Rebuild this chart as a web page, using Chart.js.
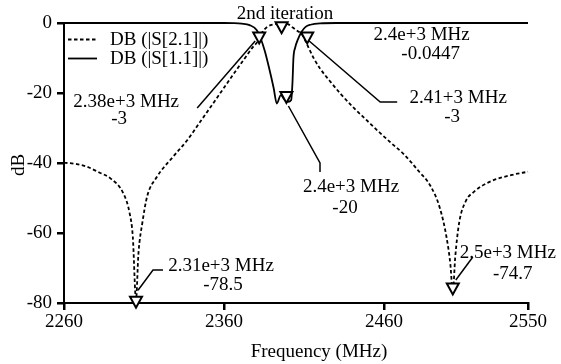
<!DOCTYPE html>
<html><head><meta charset="utf-8">
<script src="https://cdn.jsdelivr.net/npm/chart.js@4.4.1/dist/chart.umd.min.js"></script>
<style>html,body{margin:0;padding:0;background:#fff;}canvas{display:block;}</style>
</head><body>
<canvas id="c" width="561" height="364"></canvas>
<script>
// ---------- data ----------
const xTicks = [2260, 2360, 2460, 2550];
const yTicks = [-80, -60, -40, -20, 0];

const s21Label = 'DB (|S[2.1]|)';
const s21Freq = [2260, 2268, 2274, 2282, 2289, 2297, 2301, 2303, 2305, 2306.5, 2309, 2312, 2318, 2328, 2337, 2345, 2355, 2365, 2372, 2378, 2381, 2384, 2387, 2391, 2396, 2400, 2403, 2406, 2409, 2412, 2416, 2420, 2426, 2433, 2441, 2449, 2457, 2465, 2472, 2482, 2489, 2495, 2499, 2501.5, 2503, 2504.5, 2507, 2511, 2516, 2526, 2540, 2550];
const s21Db   = [-39.9, -40.3, -41, -42.7, -44.4, -48.6, -54.3, -61, -79, -66, -57, -49.5, -44, -38.3, -33.5, -28.3, -21.8, -15.2, -10.7, -6.9, -5.3, -2.6, -1.1, -0.4, -0.04, -0.3, -1.3, -2.3, -3.4, -6.2, -10, -13, -16.5, -20.3, -24.2, -27.7, -31.2, -34.5, -37.3, -42.5, -46.5, -53, -61, -69, -77, -67, -57, -51, -48.3, -45.4, -43.4, -42.5];

const s11Label = 'DB (|S[1.1]|)';
const s11Freq = [2260, 2300, 2340, 2360, 2366, 2371, 2376, 2380.4, 2383, 2385.5, 2388, 2391, 2393, 2395.5, 2398, 2400, 2402, 2402.8, 2403.4, 2404.5, 2406, 2408.5, 2411, 2414, 2420, 2430, 2480, 2550];
const s11Db   = [0, 0, 0, 0, -0.05, -0.2, -0.6, -2, -4.5, -8, -12.5, -18.5, -23, -20.6, -22, -22.5, -22, -17, -10, -7, -4.9, -2.5, -1.1, -0.5, -0.1, 0, 0, 0];

const markerFreq = [2382, 2396, 2412, 2399, 2305, 2503];
const markerDb   = [-3, -0.0447, -3, -20, -78.5, -74.7];
const markerFreqText = ['2.38e+3 MHz', '2.4e+3 MHz', '2.41+3 MHz', '2.4e+3 MHz', '2.31e+3 MHz', '2.5e+3 MHz'];

const plotTitle = '2nd iteration';
const xTitle = 'Frequency (MHz)';
const yTitle = 'dB';

// ---------- layout / style (pixel offsets relative to marker points) ----------
const FONT_FAMILY = "'Liberation Serif', 'Times New Roman', serif";
const FONT = '19px ' + FONT_FAMILY;
const markerLayout = [
  {l1: [-133, 69], l2: [-140, 85.5], leader: [[-62, 74.5], [-4, 7.5]]},
  {l1: [140, 11.8], l2: [149, 31.3], leader: null},
  {l1: [151, 65], l2: [145, 83.5], leader: [[90, 68.5], [73, 68.5], [2, 7.5]]},
  {l1: [64.6, 94.5], l2: [58.6, 115.5], leader: [[33.6, 79], [33.6, 70], [2, 13]]},
  {l1: [85, -31.25], l2: [87, -12.75], leader: [[27, -27.75], [17, -27.75], [2, -7.5]]},
  {l1: [55, -31], l2: [60, -10], leader: [[20, -27.5], [3, -4.5]]}
];

const toPts = (fs, ds) => fs.map((f, i) => ({x: f, y: ds[i]}));

const annotPlugin = {
  id: 'annots',
  afterDatasetsDraw(chart) {
    const {ctx, chartArea: ca, scales: {x, y}} = chart;
    ctx.save();
    ctx.strokeStyle = '#000';
    ctx.fillStyle = '#000';
    ctx.font = FONT;
    ctx.textBaseline = 'middle';
    ctx.textAlign = 'center';
    markerFreq.forEach((f, i) => {
      const px = x.getPixelForValue(f), py = y.getPixelForValue(markerDb[i]);
      const L = markerLayout[i];
      if (L.leader) {
        ctx.lineWidth = 1.5;
        ctx.setLineDash([]);
        ctx.beginPath();
        L.leader.forEach(([dx, dy], k) => k ? ctx.lineTo(px + dx, py + dy) : ctx.moveTo(px + dx, py + dy));
        ctx.stroke();
      }
      // inverted triangle marker
      const cy = py + 4;
      ctx.lineWidth = 2;
      ctx.beginPath();
      ctx.moveTo(px - 6, cy - 5);
      ctx.lineTo(px + 6, cy - 5);
      ctx.lineTo(px, cy + 6);
      ctx.closePath();
      ctx.fillStyle = '#fff';
      ctx.fill();
      ctx.stroke();
      ctx.fillStyle = '#000';
      ctx.fillText(markerFreqText[i], px + L.l1[0], py + L.l1[1]);
      ctx.fillText(String(markerDb[i]), px + L.l2[0], py + L.l2[1]);
    });
    // legend
    const ds = chart.data.datasets;
    [0, 1].forEach(k => {
      const ly = ca.top + 16.5 + k * 19;
      ctx.lineWidth = 1.8;
      ctx.setLineDash(ds[k].borderDash || []);
      ctx.beginPath();
      ctx.moveTo(ca.left + 4, ly);
      ctx.lineTo(ca.left + 33, ly);
      ctx.stroke();
      ctx.setLineDash([]);
      ctx.textAlign = 'left';
      ctx.fillText(ds[k].label, ca.left + 46, ly + 0.5);
    });
    // titles
    ctx.textAlign = 'center';
    ctx.fillText(plotTitle, ca.left + 221, ca.top - 9);
    ctx.fillText(xTitle, ca.left + 255, ca.bottom + 49);
    ctx.translate(19, (ca.top + ca.bottom) / 2 + 2);
    ctx.rotate(-Math.PI / 2);
    ctx.fillText(yTitle, 0, 0);
    ctx.restore();
  }
};

const tickFont = {family: FONT_FAMILY, size: 19};
new Chart(document.getElementById('c'), {
  type: 'line',
  data: {
    datasets: [
      {label: s21Label, data: toPts(s21Freq, s21Db), borderColor: '#000', borderWidth: 1.8, borderDash: [3.5, 2.5], pointRadius: 0, cubicInterpolationMode: 'monotone', fill: false, clip: false},
      {label: s11Label, data: toPts(s11Freq, s11Db), borderColor: '#000', borderWidth: 1.8, pointRadius: 0, cubicInterpolationMode: 'monotone', fill: false, clip: false}
    ]
  },
  options: {
    responsive: false,
    animation: false,
    devicePixelRatio: 1,
    layout: {padding: {top: 23, right: 33, left: 0, bottom: 0}},
    plugins: {legend: {display: false}, tooltip: {enabled: false}},
    scales: {
      x: {
        type: 'linear', min: 2260, max: 2550,
        afterBuildTicks: s => { s.ticks = xTicks.map(v => ({value: v})); },
        afterFit: s => { s.height = 61; },
        ticks: {font: tickFont, color: '#000', padding: 1, maxRotation: 0, autoSkip: false, callback: v => String(v)},
        grid: {drawOnChartArea: false, color: '#000', tickLength: 7, tickWidth: 2.5, lineWidth: 2.5},
        border: {display: true, color: '#000', width: 2}
      },
      y: {
        type: 'linear', min: -80, max: 0,
        afterBuildTicks: s => { s.ticks = yTicks.map(v => ({value: v})); },
        afterFit: s => { s.width = 64; },
        ticks: {font: tickFont, color: '#000', padding: 5, autoSkip: false, callback: v => String(v)},
        grid: {drawOnChartArea: false, color: '#000', tickLength: 7, tickWidth: 2.5, lineWidth: 2.5},
        border: {display: true, color: '#000', width: 2}
      }
    }
  },
  plugins: [annotPlugin]
});
</script>
</body></html>
